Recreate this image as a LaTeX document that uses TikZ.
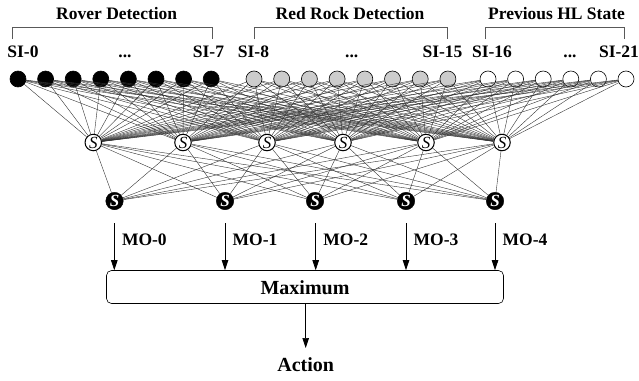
\documentclass[tikz,border=0pt]{standalone}
\usepackage{fontspec}
\setmainfont{Liberation Serif}
\usetikzlibrary{arrows.meta}

\begin{document}
\begin{tikzpicture}[x=1pt,y=-1pt,
  lbl/.style={font=\fontsize{17.5}{20}\selectfont\bfseries, inner sep=0pt},
  big/.style={font=\fontsize{20}{22}\selectfont\bfseries, inner sep=0pt},
  inp/.style={circle, draw=black, line width=0.6pt, minimum size=16pt, inner sep=0pt},
  hid/.style={circle, draw=black, fill=white, line width=1pt, minimum size=16.5pt, inner sep=0pt,
              font=\fontsize{17}{17}\selectfont\itshape},
  outn/.style={circle, draw=black, fill=black, minimum size=17.5pt, inner sep=0pt,
              text=white, font=\fontsize{17}{17}\selectfont\bfseries\itshape},
  wire/.style={draw=black!80, line width=0.4pt},
  brk/.style={draw=black!65, line width=0.7pt},
  arr/.style={draw=black, line width=0.7pt, -{Triangle[length=10pt,width=6.5pt]}}
]
\useasboundingbox (0,0) rectangle (639,380);

% group titles
\node[lbl, anchor=base] (t1) at (116.7,19.5) {Rover Detection};
\node[lbl, anchor=base] (t2) at (350,19.5) {Red Rock Detection};
\node[lbl, anchor=base] (t3) at (556.5,19.5) {Previous HL State};

% brackets under the titles
\draw[brk] (12.3,39) -- (12.3,27.7) -- (212.3,27.7) -- (212.3,39);
\draw[brk] (254,39) -- (254,27.7) -- (447.7,27.7) -- (447.7,39);
\draw[brk] (485.7,39) -- (485.7,27.7) -- (624,27.7) -- (624,39);

% input labels
\node[lbl, anchor=base] (l0) at (23,57.3) {SI-0};
\node[lbl, anchor=base] (d0) at (125,57.3) {...};
\node[lbl, anchor=base] (l7) at (208.5,57.3) {SI-7};
\node[lbl, anchor=base] (l8) at (253.5,57.3) {SI-8};
\node[lbl, anchor=base] (d1) at (351.7,57.3) {...};
\node[lbl, anchor=base] (l15) at (442.5,57.3) {SI-15};
\node[lbl, anchor=base] (l16) at (492,57.3) {SI-16};
\node[lbl, anchor=base] (d2) at (570,57.3) {...};
\node[lbl, anchor=base] (l21) at (619,57.3) {SI-21};

% input layer
\foreach \k in {0,...,7}
  \node[inp, fill=black] (i\k) at ({18+27.6*\k},79) {};
\foreach \k in {8,...,15}
  \node[inp, fill=black!20] (i\k) at ({254+27.7*(\k-8)},79) {};
\foreach \k in {16,...,21}
  \node[inp, fill=white] (i\k) at ({488+27.6*(\k-16)},79) {};

% hidden and output layers
\foreach \x [count=\j] in {93.3,183,267,343,426,502}
  \node[hid] (h\j) at (\x,142.5) {S};
\foreach \x [count=\j from 0] in {114.5,225,315,406,495}
  \node[outn] (o\j) at (\x,201) {S};

% full connections
\foreach \a in {0,...,21}
  \foreach \b in {1,...,6}
    \draw[wire] (i\a) -- (h\b);
\foreach \b in {1,...,6}
  \foreach \c in {0,...,4}
    \draw[wire] (h\b) -- (o\c);

% aggregation box
\node[draw=black, line width=0.6pt, rounded corners=5pt, minimum width=397pt,
      minimum height=33pt, inner sep=0pt] (box) at (305,287) {};
\node[big, anchor=base] (maxlbl) at (305,294) {Maximum};

% output arrows with labels
\foreach \x [count=\j from 0] in {114.3,225,315.7,406,495} {
  \coordinate (s\j) at (\x,223);
  \draw[arr] (s\j) -- (s\j |- box.north);
  \node[lbl, anchor=base west] (mo\j) at (\x+7.5,245) {MO-\j};
}

% final decision
\coordinate (acttip) at (305.7,348);
\draw[arr] (box.south -| acttip) -- (acttip);
\node[big, anchor=base] (act) at (305.7,371.5) {Action};
\end{tikzpicture}
\end{document}
